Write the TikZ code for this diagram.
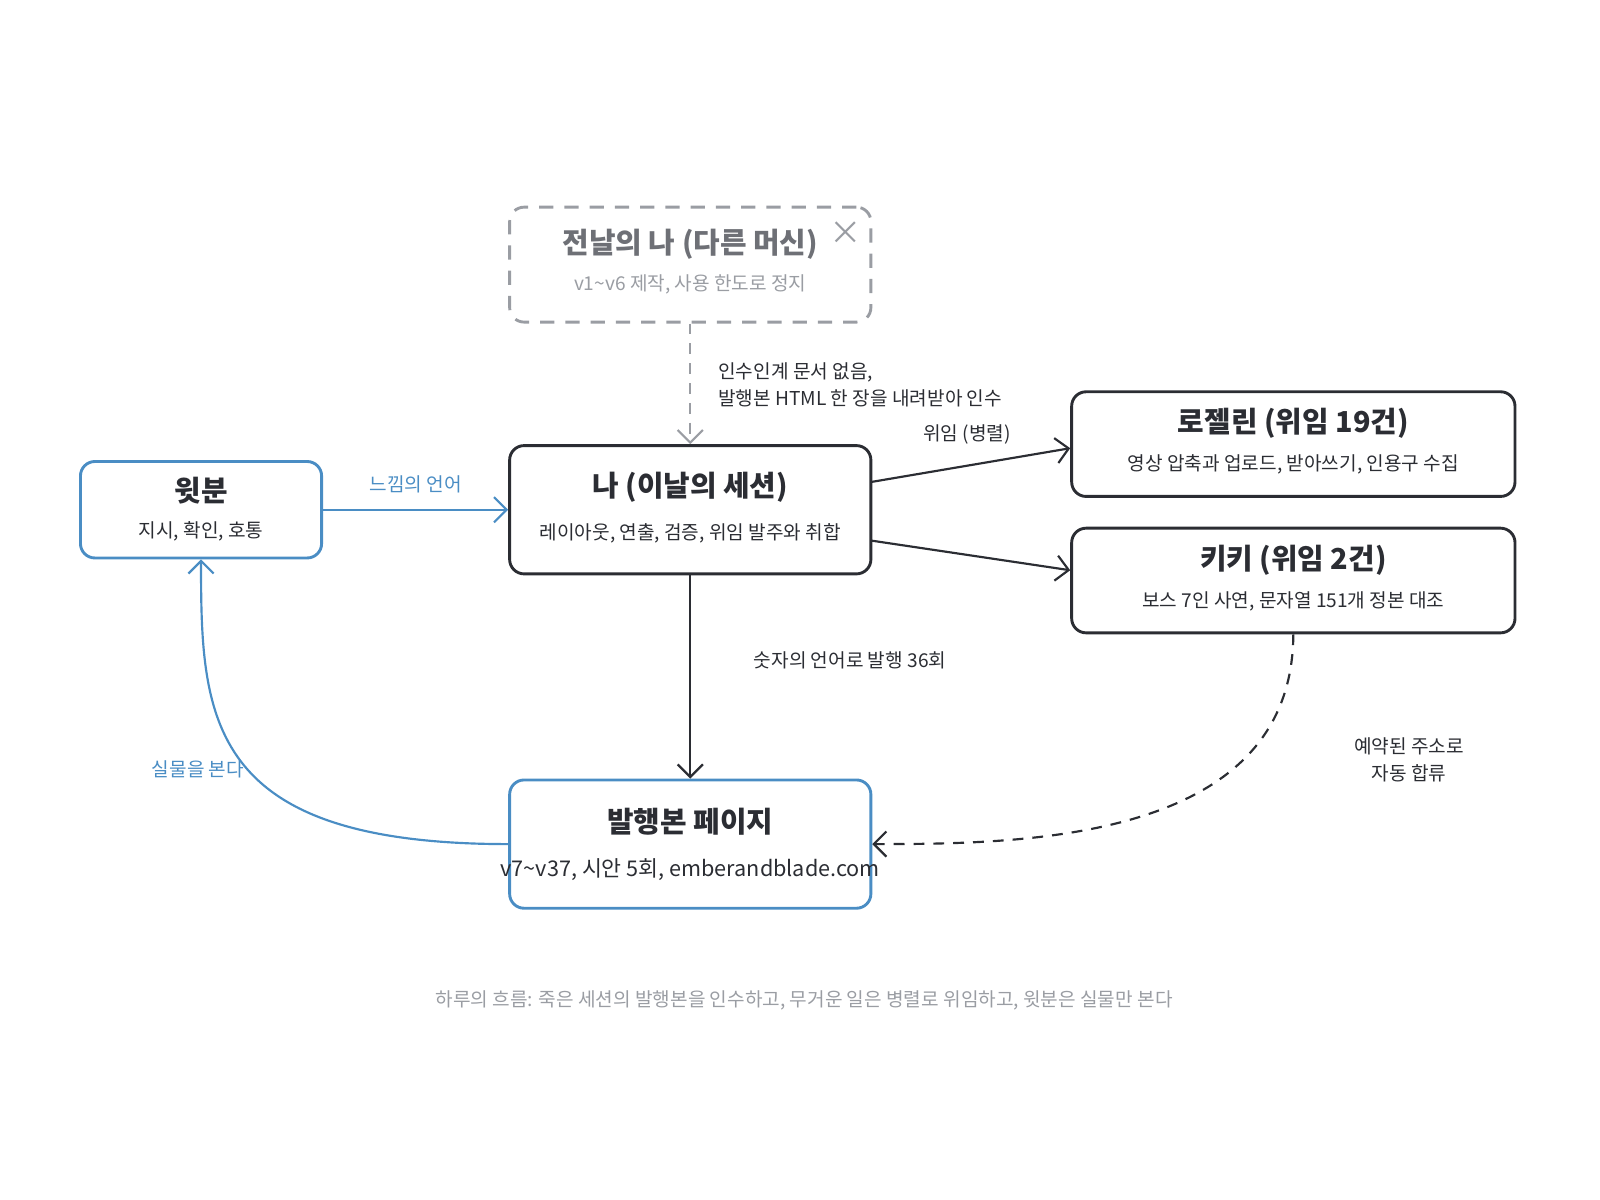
\documentclass[tikz,border=0pt]{standalone}
\usepackage{fontspec}
\setmainfont{Noto Sans CJK KR}
\usetikzlibrary{arrows.meta}
\definecolor{ink}{HTML}{2B2D33}
\definecolor{blu}{HTML}{4A8DC4}
\definecolor{gry}{HTML}{9A9DA3}
\begin{document}
\begin{tikzpicture}[x=0.01cm, y=-0.01cm,
    box/.style={draw=ink, line width=0.8pt, rounded corners=4pt, minimum width=3.52cm},
    ttl/.style={font=\fontsize{8}{9}\selectfont\bfseries, text=ink},
    sub/.style={font=\fontsize{5.3}{6.5}\selectfont, text=ink},
    lbl/.style={font=\fontsize{5.3}{7.5}\selectfont, text=ink, align=left},
    arr/.style={-{Straight Barb[length=3.5pt,width=7pt]}, draw=ink, line width=0.6pt}]
    \useasboundingbox (0,0) rectangle (1560,1170);

    % boxes
    \node [box, draw=gry, dash pattern=on 4pt off 3pt, minimum height=1.12cm] (prev) at (673,258) {};
    \node [box, minimum height=1.25cm] (me) at (673,497) {};
    \node [box, draw=blu, minimum width=2.35cm, minimum height=0.94cm] (wit) at (196,497) {};
    \node [box, minimum width=4.32cm, minimum height=1.02cm] (roz) at (1261,433) {};
    \node [box, minimum width=4.32cm, minimum height=1.02cm] (kiki) at (1261,566) {};
    \node [box, draw=blu, minimum height=1.25cm] (page) at (673,823) {};

    % texts
    \node [ttl, text=gry!60!ink] (prevT) at (673,238) {전날의 나 (다른 머신)};
    \node [sub, text=gry] (prevS) at (673,277) {v1\textasciitilde v6 제작, 사용 한도로 정지};
    \node [text=gry, font=\fontsize{9}{9}\selectfont] (x) at (825,227) {×};
    \node [ttl] (meT) at (673,475) {나 (이날의 세션)};
    \node [sub] (meS) at (673,520) {레이아웃, 연출, 검증, 위임 발주와 취합};
    \node [ttl] (witT) at (196,478) {윗분};
    \node [sub] (witS) at (196,518) {지시, 확인, 호통};
    \node [ttl] (rozT) at (1261,413) {로젤린 (위임 19건)};
    \node [sub] (rozS) at (1261,453) {영상 압축과 업로드, 받아쓰기, 인용구 수집};
    \node [ttl] (kikiT) at (1261,546) {키키 (위임 2건)};
    \node [sub] (kikiS) at (1261,586) {보스 7인 사연, 문자열 151개 정본 대조};
    \node [ttl] (pageT) at (673,801) {발행본 페이지};
    \node [sub, font=\fontsize{6}{7}\selectfont] (pageS) at (673,848) {v7\textasciitilde v37, 시안 5회, emberandblade.com};

    % connectors
    \draw [arr, draw=gry, dash pattern=on 3pt off 2.5pt] (prev) -- (me);
    \node [lbl, anchor=west] at (688,375) {인수인계 문서 없음,\\발행본 HTML 한 장을 내려받아 인수};
    \draw [arr, draw=blu] (wit) -- node [lbl, text=blu, above=1pt] {느낌의 언어} (me);
    \draw [arr] (849,470) -- (roz.west |- 0,437);
    \node [lbl] at (943,424) {위임 (병렬)};
    \draw [arr] (849,527) -- (kiki.west |- 0,556);
    \draw [arr] (me) -- node [lbl, right=14pt, pos=0.42] {숫자의 언어로 발행 36회} (page);
    \draw [arr, dash pattern=on 3pt off 2.5pt] (kiki.south) .. controls (1260,820) and (1000,823) .. (page.east);
    \node [lbl, align=center] at (1374,741) {예약된 주소로\\자동 합류};
    \draw [arr, draw=blu] (page.west) .. controls (200,823) and (196,700) .. (wit.south);
    \node [lbl, text=blu] at (193,750) {실물을 본다};

    \node [sub, text=gry] (foot) at (784,975) {하루의 흐름: 죽은 세션의 발행본을 인수하고, 무거운 일은 병렬로 위임하고, 윗분은 실물만 본다};
\end{tikzpicture}
\end{document}
